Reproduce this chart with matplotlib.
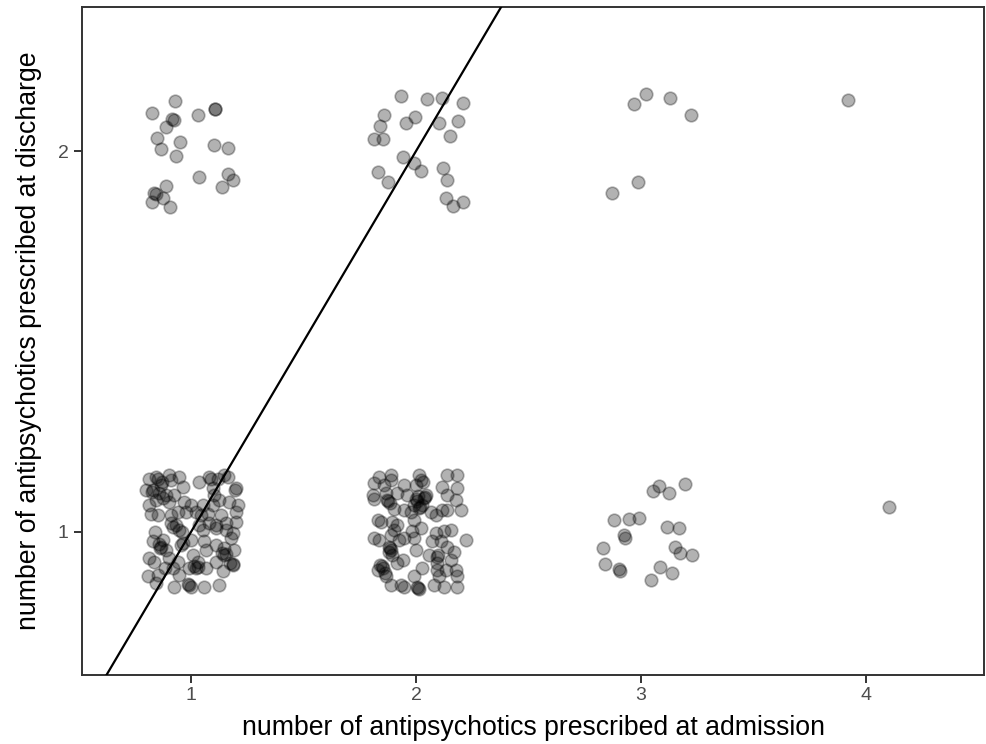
import matplotlib
matplotlib.use("Agg")
from matplotlib import pyplot as plt

# (1, 2) cluster
x12 = [0.930, 0.826, 1.030, 1.108, 1.108, 0.923, 0.915, 0.889, 0.849, 0.953, 0.868, 0.935,
       1.103, 1.164, 1.036, 1.163, 1.186, 1.136, 0.889, 0.837, 0.845, 0.874, 0.826, 0.908]
y12 = [2.132, 2.099, 2.094, 2.111, 2.111, 2.081, 2.083, 2.062, 2.035, 2.023, 2.005, 1.988,
       2.016, 2.007, 1.932, 1.939, 1.923, 1.905, 1.908, 1.890, 1.888, 1.876, 1.865, 1.852]

# (2, 2) cluster
x22 = [1.935, 2.048, 2.117, 2.209, 1.857, 1.840, 1.954, 1.996, 2.102, 2.188, 2.150, 1.814,
       1.855, 1.941, 1.991, 2.022, 2.118, 1.830, 1.876, 2.136, 2.132, 2.163, 2.209]
y22 = [2.144, 2.136, 2.138, 2.127, 2.095, 2.066, 2.074, 2.090, 2.074, 2.078, 2.039, 2.031,
       2.031, 1.985, 1.968, 1.948, 1.955, 1.945, 1.919, 1.924, 1.877, 1.856, 1.867]

# (3, 2) and (4, 2)
x32 = [3.020, 2.968, 3.127, 3.221, 2.987, 2.873, 3.921]
y32 = [2.149, 2.123, 2.139, 2.095, 1.919, 1.889, 2.134]

# (1, 1) cluster
x11 = [0.815, 0.845, 0.854, 0.904, 0.911, 0.948, 0.963, 1.037, 1.081, 1.118, 1.148, 1.163,
       1.200, 1.195, 0.800, 0.830, 0.859, 0.889, 0.926, 0.904, 0.845, 0.815, 0.822, 0.852,
       0.970, 1.000, 1.052, 1.096, 1.103, 1.096, 1.170, 1.200, 1.207, 1.200, 1.155, 1.133,
       1.074, 1.044, 1.022, 0.978, 0.941, 0.911, 0.911, 0.933, 1.081, 1.111, 1.037, 0.919,
       0.948, 1.052, 1.111, 1.155, 1.185, 1.178, 0.830, 0.867, 0.858, 0.874, 0.889, 0.963,
       1.000, 1.059, 1.067, 1.111, 1.148, 1.148, 1.138, 1.192, 0.815, 0.837, 0.904, 0.941,
       1.008, 1.030, 1.022, 1.013, 1.067, 1.111, 1.185, 1.173, 1.141, 0.808, 0.852, 0.948,
       0.845, 0.926, 0.992, 1.000, 1.059, 1.126, 0.882, 0.919, 0.992, 0.867, 0.876, 0.956,
       1.124, 0.863, 0.826, 1.155, 1.030, 0.988, 1.188, 1.090, 0.870, 0.838, 0.960]
y11 = [1.140, 1.144, 1.139, 1.149, 1.136, 1.144, 1.118, 1.131, 1.144, 1.140, 1.149, 1.144,
       1.114, 1.110, 1.109, 1.109, 1.101, 1.096, 1.096, 1.079, 1.083, 1.070, 1.048, 1.044,
       1.079, 1.070, 1.070, 1.114, 1.096, 1.070, 1.079, 1.053, 1.070, 1.026, 1.022, 1.044,
       1.048, 1.044, 1.053, 1.053, 1.053, 1.044, 1.022, 1.018, 1.022, 1.018, 1.018, 1.014,
       1.005, 1.005, 1.010, 1.005, 0.997, 0.983, 0.975, 0.961, 0.969, 0.979, 0.953, 0.970,
       0.979, 0.975, 0.953, 0.966, 0.957, 0.940, 0.945, 0.953, 0.931, 0.922, 0.931, 0.922,
       0.940, 0.922, 0.905, 0.911, 0.905, 0.922, 0.913, 0.919, 0.896, 0.883, 0.887, 0.887,
       0.865, 0.856, 0.861, 0.856, 0.856, 0.861, 0.905, 0.905, 0.905, 1.123, 1.089, 0.966,
       1.084, 0.958, 1.105, 0.943, 0.908, 0.864, 0.915, 1.138, 1.130, 1.000, 1.000]

# (2, 1) cluster
x21 = [1.836, 1.888, 1.888, 1.814, 1.858, 1.947, 2.013, 2.021, 2.030, 1.999, 2.139, 2.184,
       2.117, 2.184, 1.814, 1.866, 1.873, 1.883, 1.917, 1.962, 1.999, 2.008, 2.043, 2.034,
       1.991, 2.028, 2.012, 1.976, 2.065, 2.087, 2.139, 2.176, 2.117, 2.139, 2.198, 1.902,
       1.843, 1.830, 1.895, 1.917, 1.947, 1.991, 1.814, 1.836, 1.888, 1.902, 1.947, 1.984,
       1.991, 2.087, 2.124, 2.154, 2.073, 2.110, 2.139, 2.221, 1.888, 1.879, 1.895, 1.940,
       1.917, 1.999, 2.058, 2.095, 2.095, 2.169, 2.154, 2.028, 1.829, 1.851, 1.839, 1.866,
       1.991, 2.095, 2.132, 2.176, 2.184, 2.102, 1.888, 1.932, 1.947, 2.006, 2.012, 2.080,
       2.124, 2.184, 2.021, 1.923, 1.808, 2.003, 2.040, 1.884, 1.848, 1.860, 2.010, 1.876,
       2.098, 2.016, 1.882]
y21 = [1.144, 1.149, 1.136, 1.127, 1.123, 1.123, 1.149, 1.136, 1.131, 1.123, 1.149, 1.149,
       1.118, 1.114, 1.087, 1.101, 1.083, 1.076, 1.101, 1.096, 1.087, 1.095, 1.096, 1.089,
       1.070, 1.070, 1.063, 1.053, 1.053, 1.044, 1.096, 1.083, 1.057, 1.057, 1.057, 1.061,
       1.026, 1.031, 1.026, 1.018, 1.057, 1.031, 0.983, 0.979, 0.992, 1.005, 0.983, 1.001,
       0.983, 0.997, 1.001, 1.005, 0.975, 0.975, 0.961, 0.979, 0.953, 0.961, 0.940, 0.927,
       0.918, 0.953, 0.940, 0.935, 0.918, 0.948, 0.927, 0.905, 0.900, 0.905, 0.913, 0.883,
       0.883, 0.900, 0.900, 0.900, 0.883, 0.883, 0.861, 0.861, 0.856, 0.856, 0.850, 0.861,
       0.856, 0.856, 1.011, 0.979, 1.097, 1.082, 1.092, 0.957, 0.909, 0.893, 0.853, 1.080,
       0.938, 1.066, 0.946]

# (3, 1) and (4, 1)
x31 = [3.079, 3.053, 3.125, 3.197, 2.879, 2.945, 2.990, 3.117, 3.169, 2.923, 2.928, 2.829,
       3.150, 3.174, 3.228, 2.838, 2.903, 2.906, 3.083, 3.136, 3.046, 4.102]
y31 = [1.121, 1.108, 1.102, 1.126, 1.031, 1.034, 1.037, 1.014, 1.011, 0.992, 0.985, 0.957,
       0.960, 0.944, 0.939, 0.916, 0.903, 0.896, 0.907, 0.892, 0.874, 1.066]

xs = x12 + x22 + x32 + x11 + x21 + x31
ys = y12 + y22 + y32 + y11 + y21 + y31

plt.rcParams['font.family'] = ['Liberation Sans', 'DejaVu Sans']

fig = plt.figure(figsize=(9.87, 7.44), dpi=100)
ax = fig.add_axes([0.0828, 0.0927, 0.9145, 0.8983])

ax.scatter(xs, ys, s=82, c='black', alpha=0.3, linewidths=1.2, edgecolors='black', zorder=2)
ax.axline((0, 0), slope=1, color='black', linewidth=1.6, zorder=3)

ax.set_xlim(0.514, 4.526)
ax.set_ylim(0.624, 2.379)
ax.set_xticks([1, 2, 3, 4])
ax.set_yticks([1, 2])
ax.tick_params(colors='#333333', labelcolor='#4d4d4d', labelsize=14, length=5.5, width=1.4)
ax.tick_params(axis='x', pad=3)
ax.tick_params(axis='y', pad=4)
for s in ax.spines.values():
    s.set_color('#333333')
    s.set_linewidth(1.4)

ax.set_xlabel('number of antipsychotics prescribed at admission', fontsize=19.2, labelpad=8)
ax.set_ylabel('number of antipsychotics prescribed at discharge', fontsize=19.2, labelpad=11)

fig.savefig('out.png', dpi=100)
